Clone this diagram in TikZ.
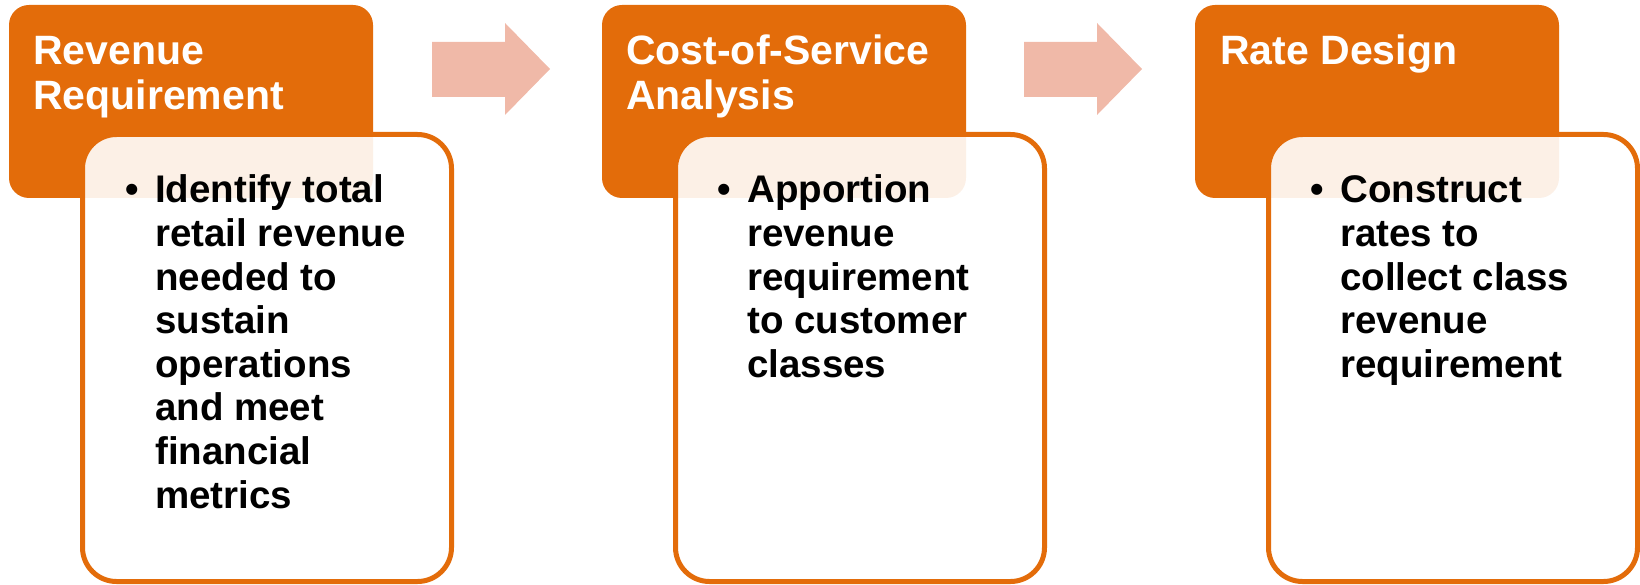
\documentclass[tikz,border=0pt]{standalone}
\usepackage{fontspec}
\setmainfont{Liberation Sans}
\definecolor{stepOrange}{HTML}{E36C0A}
\definecolor{flowArrow}{HTML}{F0B9A8}

\begin{document}
\begin{tikzpicture}[x=1pt,y=-1pt,
  header/.style={fill=stepOrange, rounded corners=20pt, inner sep=0pt, outer sep=0pt,
    anchor=north west, minimum width=364pt, minimum height=193pt},
  detail/.style={draw=stepOrange, line width=5pt, fill=white, fill opacity=0.9,
    rounded corners=34pt, inner sep=0pt, outer sep=0pt, anchor=north west,
    minimum width=369pt, minimum height=447pt},
  htext/.style={anchor=base west, inner sep=0pt, text=white,
    font=\bfseries\fontsize{41}{45}\selectfont},
  btext/.style={anchor=base west, inner sep=0pt, text=black,
    font=\bfseries\fontsize{38.5}{43.6}\selectfont},
  bulletmark/.style={anchor=base, inner sep=0pt, text=black,
    font=\bfseries\fontsize{38.5}{43.6}\selectfont},
  flow/.style={fill=flowArrow}
]
\useasboundingbox (0,0) rectangle (1640,585);

% Step 1: revenue requirement
\node[header] (h1) at (9,5) {};
\node[detail] (d1) at (82.5,134.5) {};
\node[htext] (t1) at (33,65) {\parbox[t]{330pt}{Revenue\\Requirement}};
\node[bulletmark] (b1) at (132,203) {•};
\node[btext] (x1) at (155,203) {\parbox[t]{290pt}{Identify total\\retail revenue\\needed to\\sustain\\operations\\and meet\\financial\\metrics}};

% Step 2: cost-of-service analysis
\node[header] (h2) at (602,5) {};
\node[detail] (d2) at (675.5,134.5) {};
\node[htext] (t2) at (626,65) {\parbox[t]{330pt}{Cost-of-Service\\Analysis}};
\node[bulletmark] (b2) at (724,203) {•};
\node[btext] (x2) at (747,203) {\parbox[t]{290pt}{Apportion\\revenue\\requirement\\to customer\\classes}};

% Step 3: rate design
\node[header] (h3) at (1195,5) {};
\node[detail] (d3) at (1268.5,134.5) {};
\node[htext] (t3) at (1220,65) {\parbox[t]{330pt}{Rate Design}};
\node[bulletmark] (b3) at (1317,203) {•};
\node[btext] (x3) at (1340,203) {\parbox[t]{290pt}{Construct\\rates to\\collect class\\revenue\\requirement}};

% Block arrows between the steps
\coordinate (a1) at (432,69.5);
\coordinate (a2) at (1024,69.5);
\foreach \a in {a1,a2}{
  \fill[flow] (\a) ++(0,-27.5) -- ++(73,0) -- ++(0,-19) -- ++(45,46) -- ++(-45,46)
    -- ++(0,-18) -- ++(-73,0) -- cycle;
}
\end{tikzpicture}
\end{document}
